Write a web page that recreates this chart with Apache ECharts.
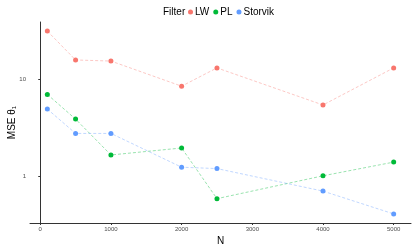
<!DOCTYPE html>
<html><head><meta charset="utf-8">
<script src="https://cdn.jsdelivr.net/npm/echarts@6/dist/echarts.min.js"></script>
<style>html,body{margin:0;padding:0;background:#fff}#c{width:415px;height:249px}</style>
</head><body><div id="c"></div>
<script>
const N = [100, 500, 1000, 2000, 2500, 4000, 5000];
const LW = [31.3, 15.8, 15.4, 8.5, 13.1, 5.45, 13.1];
const PL = [7.0, 3.9, 1.67, 1.97, 0.594, 1.02, 1.41];
const Storvik = [4.95, 2.78, 2.78, 1.25, 1.21, 0.71, 0.414];
const xTicks = [0, 1000, 2000, 3000, 4000, 5000];
const yTicks = [1, 10];
const names = ['LW', 'PL', 'Storvik'];
const colors = ['#F8766D', '#00BA38', '#619CFF'];
const lineColors = ['rgba(248,118,109,0.5)', 'rgba(0,186,56,0.5)', 'rgba(97,156,255,0.5)'];
const values = [LW, PL, Storvik];

const chart = echarts.init(document.getElementById('c'), null, {renderer: 'canvas'});
const font = 'Liberation Sans, Arial, Helvetica, sans-serif';
chart.setOption({
  animation: false,
  backgroundColor: '#fff',
  textStyle: {fontFamily: font},
  grid: {left: 30, right: 4, top: 22, bottom: 26, containLabel: false, outerBoundsMode: 'none'},
  graphic: [{type: 'text', left: 163, top: 7, style: {text: 'Filter', font: '10px ' + font, fill: '#000'}}],
  legend: {
    left: 188, top: 7, padding: 0, icon: 'circle', itemWidth: 5, itemHeight: 5, itemGap: 4,
    textStyle: {fontSize: 10, color: '#000', fontFamily: font, padding: [0, 0, 0, -3]},
    data: names
  },
  xAxis: {
    type: 'value', min: -145, max: 5245,
    axisLine: {lineStyle: {color: '#333', width: 1}},
    axisTick: {customValues: xTicks, length: 2, lineStyle: {color: '#333'}},
    axisLabel: {customValues: xTicks, fontSize: 6, color: '#4d4d4d', margin: 3, formatter: v => String(v)},
    splitLine: {show: false},
    name: 'N', nameLocation: 'middle', nameGap: 13, nameMoveOverlap: false,
    nameTextStyle: {fontSize: 10, color: '#000'}
  },
  yAxis: {
    type: 'log', logBase: 10, min: 0.334, max: 38.8,
    axisLine: {show: true, lineStyle: {color: '#333', width: 1}},
    axisTick: {show: true, customValues: yTicks, length: 2, lineStyle: {color: '#333'}},
    axisLabel: {customValues: yTicks, fontSize: 6, color: '#4d4d4d', margin: 4, formatter: v => String(v)},
    splitLine: {show: false},
    name: '{a|MSE θ}{s|1}', nameLocation: 'middle', nameGap: 13, nameMoveOverlap: false,
    nameTextStyle: {fontSize: 10, color: '#000', rich: {a: {fontSize: 10, color: '#000'}, s: {fontSize: 6, color: '#000', verticalAlign: 'bottom', padding: [4, 0, 0, 0]}}}
  },
  series: names.map((n, i) => ({
    name: n, type: 'line',
    data: N.map((x, j) => [x, values[i][j]]),
    symbol: 'circle', symbolSize: 5,
    itemStyle: {color: colors[i]},
    lineStyle: {color: lineColors[i], width: 0.8, type: [3, 2]},
    z: 2
  }))
});
</script></body></html>
